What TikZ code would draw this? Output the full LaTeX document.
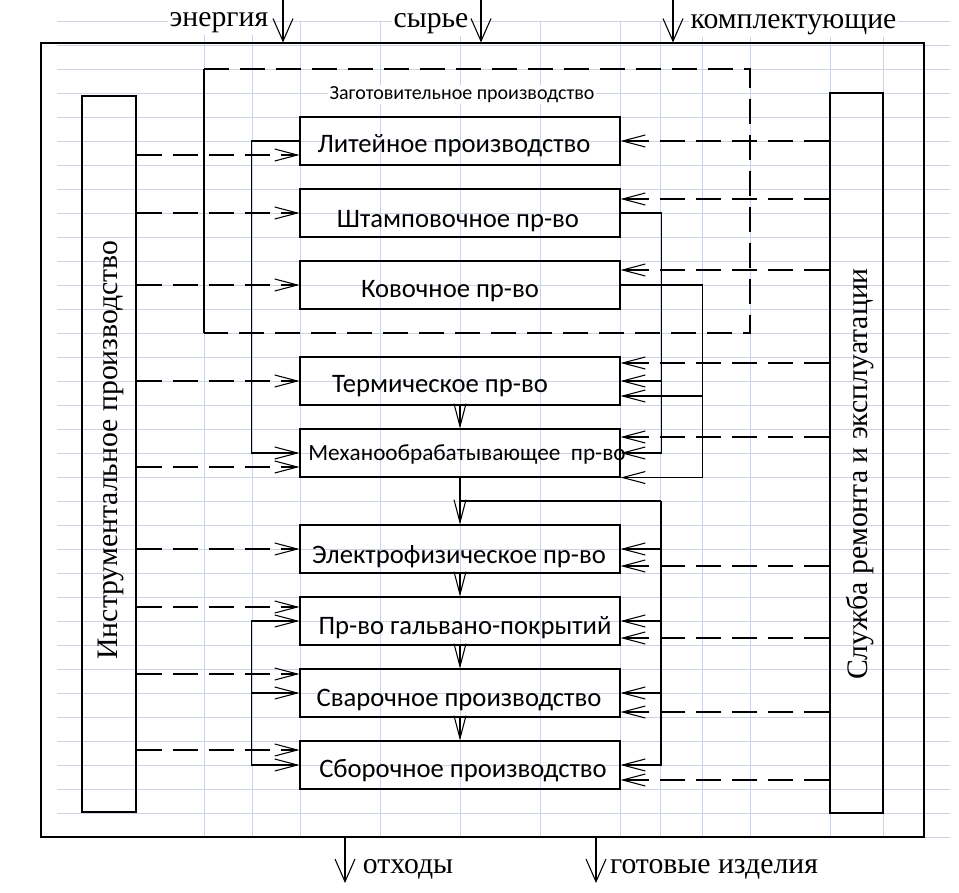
\documentclass[tikz,border=0pt]{standalone}
\usepackage{fontspec}
\setmainfont{Liberation Serif}
\newfontfamily\boxfont{Carlito}
\usetikzlibrary{arrows.meta,calc}
\definecolor{gridblue}{RGB}{204,211,228}
\tikzset{
    gridline/.style={gridblue,line width=0.6pt},
    supply/.style={draw,-{Straight Barb[length=17pt,width=9pt]},dash pattern=on 19pt off 8pt},
    flow/.style={draw,-{Straight Barb[length=17pt,width=9pt]}},
    feed/.style={draw,-{Straight Barb[length=17pt,width=15pt]}},
    outerlabel/.style={font=\fontsize{22.3}{26}\selectfont,anchor=base,fill=white,inner sep=1pt}
}
\begin{document}
\begin{tikzpicture}[x=0.75pt,y=-0.75pt,line width=0.8pt]
    \useasboundingbox (0,0) rectangle (959,892);
    % grid of the sheet
    \foreach \gy in {21,45,...,837}
        \draw[gridline] (57,\gy) -- (950,\gy);
    \foreach \gx in {204,252,300,380,460,540,620,660,702,750,830,883}
        \draw[gridline] (\gx,21) -- (\gx,837);

    \node[draw,minimum width=662.25pt,minimum height=595.5pt] (plant) at (482.5,440) {};

    % inputs and outputs
    \node[outerlabel] (en) at (219,27) {энергия};
    \node[outerlabel] (raw) at (431,28) {сырье};
    \node[outerlabel] (parts) at (793.5,29) {комплектующие};
    \node[outerlabel] (waste) at (408,873) {отходы};
    \node[outerlabel] (goods) at (714,873) {готовые изделия};
    \coordinate (en-in) at (283,0);
    \coordinate (raw-in) at (481,0);
    \coordinate (parts-in) at (673,0);
    \coordinate (waste-out) at (345,883);
    \coordinate (goods-out) at (596,883);
    \draw[feed] (en-in) -- (en-in |- plant.north);
    \draw[feed] (raw-in) -- (raw-in |- plant.north);
    \draw[feed] (parts-in) -- (parts-in |- plant.north);
    \draw[feed] (waste-out |- plant.south) -- (waste-out);
    \draw[feed] (goods-out |- plant.south) -- (goods-out);

    % side services
    \node[draw,minimum width=40.5pt,minimum height=537pt] (instr) at (109,454) {};
    \node[draw,minimum width=39.75pt,minimum height=540pt] (serv) at (856.5,453) {};
    \node[rotate=90,font=\fontsize{22.3}{26}\selectfont] (instr-t) at (111,450) {Инструментальное производство};
    \node[rotate=90,font=\fontsize{22.3}{26}\selectfont] (serv-t) at (860,474) {Служба ремонта и эксплуатации};

    % blank production group
    \draw (204,69) -- (204,333);
    \draw[dash pattern=on 19pt off 8pt] (204,69) -- (750,69) -- (750,333) -- (204,333);
    \node[font=\boxfont\fontsize{15}{18}\selectfont,anchor=base,fill=white,inner sep=1pt] (zag) at (462,99) {Заготовительное производство};

    \begin{scope}[every node/.style={draw,minimum width=240pt,minimum height=36pt,inner sep=0pt}]
        \node (lit) at (460,141) {};
        \node (stamp) at (460,213) {};
        \node (kov) at (460,285) {};
        \node (term) at (460,381) {};
        \node (mech) at (460,453) {};
        \node (elec) at (460,549) {};
        \node (galv) at (460,621) {};
        \node (svar) at (460,693) {};
        \node (sbor) at (460,765) {};
    \end{scope}
    \begin{scope}[every node/.style={font=\boxfont\fontsize{20}{24}\selectfont,anchor=base,inner sep=0pt}]
        \node (lit-t) at (454,152) {Литейное производство};
        \node (stamp-t) at (458,227) {Штамповочное пр-во};
        \node (kov-t) at (450,297) {Ковочное пр-во};
        \node (term-t) at (440,392) {Термическое пр-во};
        \node[font=\boxfont\fontsize{17.4}{21}\selectfont] (mech-t) at (467,460) {Механообрабатывающее~~пр-во};
        \node (elec-t) at (459,563) {Электрофизическое пр-во};
        \node (galv-t) at (465,634) {Пр-во гальвано-покрытий};
        \node (svar-t) at (459,706) {Сварочное производство};
        \node (sbor-t) at (463,777) {Сборочное производство};
    \end{scope}

    % tools and repair to every shop
    \foreach \shop/\dl/\dr in {lit/14/0,stamp/0/-14,kov/0/-15,term/0/-18,mech/14/-16,
            elec/0/17,galv/-14/17,svar/-19/19,sbor/-15/15}{
        \path ($(\shop.west)+(0,\dl)$) coordinate (tipL)
              ($(\shop.east)+(0,\dr)$) coordinate (tipR);
        \draw[supply] (instr.east |- tipL) -- (tipL);
        \draw[supply] (serv.west |- tipR) -- (tipR);
    }

    % material flow
    \draw[flow] (lit.west) -- ++(-48,0) |- (mech.west);
    \draw[flow] ($(galv.west)+(-48,0)$) coordinate (busL) -- (galv.west);
    \draw[flow] (busL) |- (svar.west);
    \draw[flow] (busL) |- (sbor.west);
    \draw[flow] (stamp.east) -- ++(41,0) coordinate (busR1) |- (term.east);
    \draw[flow] (busR1) |- (mech.east);
    \draw[flow] (kov.east) -- ++(82,0) coordinate (busR2) |- ($(term.east)+(0,15)$);
    \draw[flow] (busR2) |- (mech.south east);
    \draw[flow] (term) -- (mech);
    \draw[flow] (mech) -- (elec);
    \draw[flow] (elec) -- (galv);
    \draw[flow] (galv) -- (svar);
    \draw[flow] (svar) -- (sbor);
    \path ($(mech.south)!0.5!(elec.north)$) coordinate (busR3) ++(201,0) coordinate (busR4);
    \draw (busR3) -- (busR4);
    \draw[flow] (busR4) |- (elec.east);
    \draw[flow] (busR4) |- (galv.east);
    \draw[flow] (busR4) |- (svar.east);
    \draw[flow] (busR4) |- (sbor.east);
\end{tikzpicture}
\end{document}
